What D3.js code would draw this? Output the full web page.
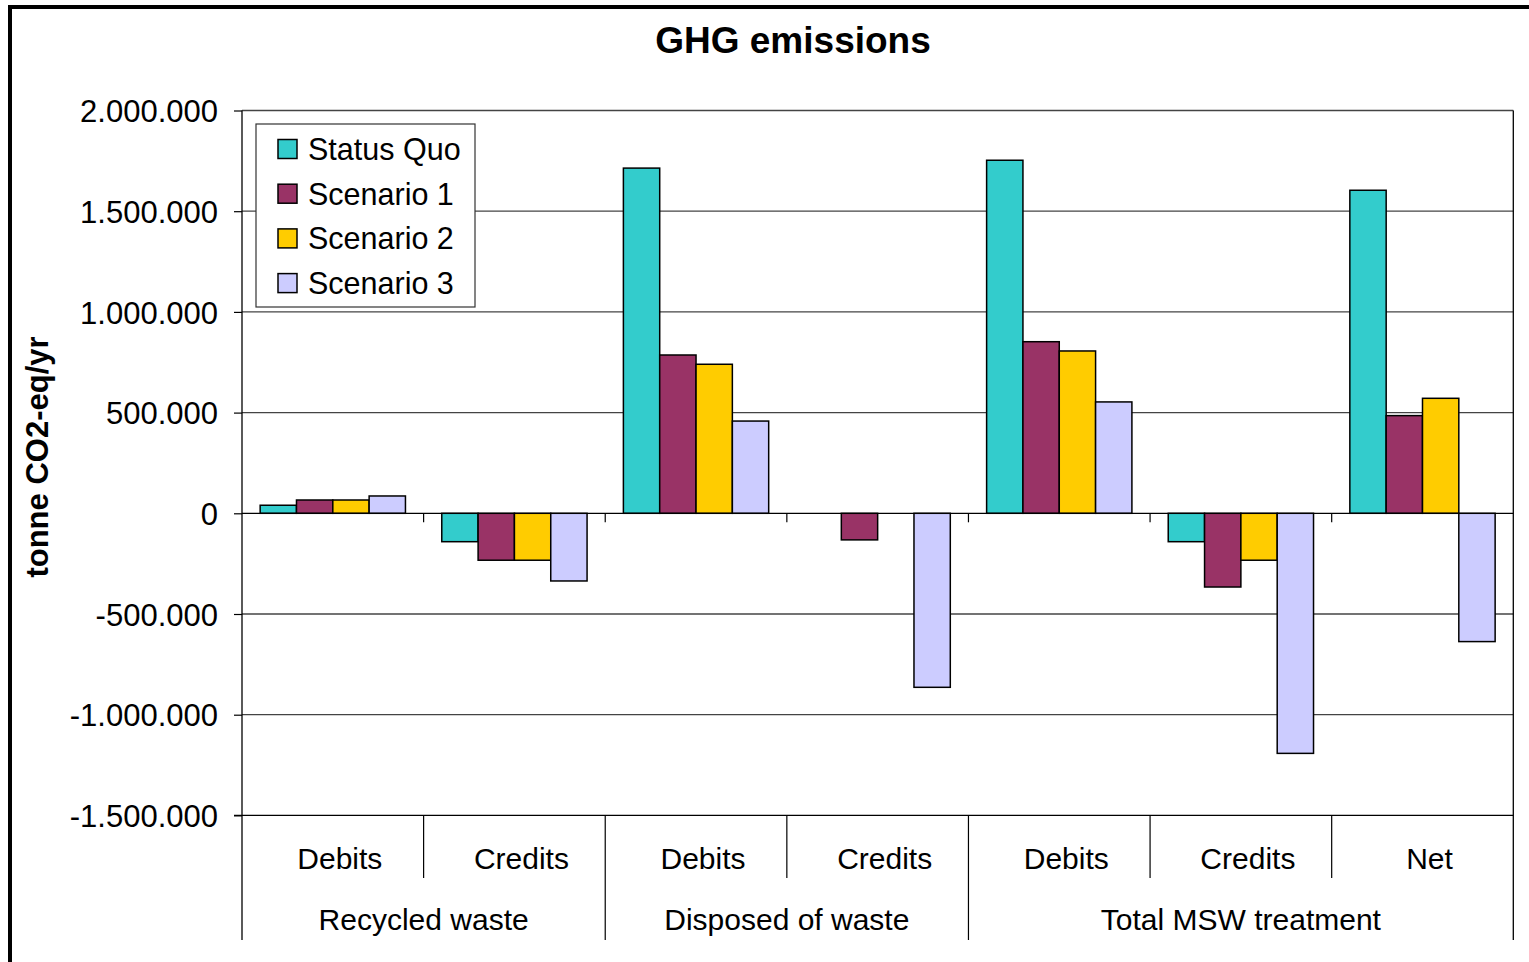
<!DOCTYPE html>
<html>
<head>
<meta charset="utf-8">
<script src="https://cdn.jsdelivr.net/npm/d3@7"></script>
<style>
  body { margin: 0; background: #fff; }
  text { font-family: "Liberation Sans", Arial, sans-serif; fill: #000; }
</style>
</head>
<body>
<div id="chart"></div>
<script>
// data
const groups = ["Recycled waste", "Disposed of waste", "Total MSW treatment"];
const subLabels = ["Debits", "Credits", "Debits", "Credits", "Debits", "Credits", "Net"];
const subGroup = [0, 0, 1, 1, 2, 2, 2];
const seriesNames = ["Status Quo", "Scenario 1", "Scenario 2", "Scenario 3"];
const seriesColors = ["#33cccc", "#993366", "#ffcc00", "#ccccff"];

const statusQuo = [40000, -141000, 1714000, 0, 1753000, -141000, 1604000];
const scenario1 = [66000, -233000, 786000, -132000, 852000, -366000, 485000];
const scenario2 = [66000, -233000, 740000, 0, 806000, -233000, 571000];
const scenario3 = [86000, -336000, 458000, -864000, 553000, -1192000, -637000];
const seriesValues = [statusQuo, scenario1, scenario2, scenario3];

const yTicks = [-1500000, -1000000, -500000, 0, 500000, 1000000, 1500000, 2000000];

const width = 1529;
const height = 962;
const plotLeft = 242, plotRight = 1513.3, plotTop = 110.5, plotBottom = 815.4;

const svg = d3
  .select("#chart")
  .append("svg")
  .attr("width", width)
  .attr("height", height);

svg.append("rect").attr("width", width).attr("height", height).attr("fill", "#fff");

// outer frame (only top and left visible)
svg
  .append("path")
  .attr("d", `M10,${height} L10,7 L${width},7`)
  .attr("fill", "none")
  .attr("stroke", "#000")
  .attr("stroke-width", 4);

const cats = subLabels.map((d, i) => i);
const x = d3.scaleBand().domain(cats).range([plotLeft, plotRight]).padding(0);
const xs = d3
  .scaleBand()
  .domain(seriesNames)
  .range([0, x.bandwidth()])
  .paddingInner(0)
  .paddingOuter(0.5);
const y = d3.scaleLinear().domain([-1500000, 2000000]).range([plotBottom, plotTop]);

const fmt = d3.formatLocale({
  decimal: ",",
  thousands: ".",
  grouping: [3],
  currency: ["", ""],
  minus: "-",
}).format(",d");

// gridlines
svg
  .append("g")
  .selectAll("line")
  .data(yTicks.filter((d) => d !== 0 && d !== -1500000))
  .enter()
  .append("line")
  .attr("x1", plotLeft)
  .attr("x2", plotRight)
  .attr("y1", (d) => y(d))
  .attr("y2", (d) => y(d))
  .attr("stroke", "#444")
  .attr("stroke-width", 1.3);

// bars
const bars = [];
seriesValues.forEach((vals, s) => {
  vals.forEach((v, i) => {
    if (v !== 0) bars.push({ s: s, i: i, v: v });
  });
});

svg
  .append("g")
  .selectAll("rect")
  .data(bars)
  .enter()
  .append("rect")
  .attr("x", (d) => x(d.i) + xs(seriesNames[d.s]))
  .attr("width", xs.bandwidth())
  .attr("y", (d) => y(Math.max(0, d.v)))
  .attr("height", (d) => Math.abs(y(d.v) - y(0)))
  .attr("fill", (d) => seriesColors[d.s])
  .attr("stroke", "#000")
  .attr("stroke-width", 1.5);

// y axis
const yAxis = svg
  .append("g")
  .attr("transform", `translate(${plotLeft},0)`)
  .call(d3.axisLeft(y).tickValues(yTicks).tickSize(8).tickSizeOuter(0).tickFormat(fmt));
yAxis.select(".domain").remove();
yAxis.selectAll(".tick line").attr("stroke", "#000").attr("stroke-width", 1.2);
yAxis
  .selectAll(".tick text")
  .attr("x", -24)
  .attr("dy", "0.36em")
  .style("font-size", "31px")
  .style("font-family", '"Liberation Sans", Arial, sans-serif');

// axis and frame lines
svg
  .append("line")
  .attr("x1", plotLeft).attr("x2", plotLeft)
  .attr("y1", plotTop).attr("y2", 940)
  .attr("stroke", "#000").attr("stroke-width", 1.3);
svg
  .append("line")
  .attr("x1", plotRight).attr("x2", plotRight)
  .attr("y1", plotTop).attr("y2", 940)
  .attr("stroke", "#000").attr("stroke-width", 1.3);
svg
  .append("line")
  .attr("x1", plotLeft - 8).attr("x2", plotRight)
  .attr("y1", plotBottom).attr("y2", plotBottom)
  .attr("stroke", "#000").attr("stroke-width", 1.3);

// category axis at zero
svg
  .append("line")
  .attr("x1", plotLeft).attr("x2", plotRight)
  .attr("y1", y(0)).attr("y2", y(0))
  .attr("stroke", "#000").attr("stroke-width", 1.3);
svg
  .append("g")
  .selectAll("line")
  .data(cats.slice(1))
  .enter()
  .append("line")
  .attr("x1", (d) => x(d)).attr("x2", (d) => x(d))
  .attr("y1", y(0)).attr("y2", y(0) + 9)
  .attr("stroke", "#000").attr("stroke-width", 1.2);

// multi-level labels below plot
svg
  .append("g")
  .selectAll("line")
  .data(cats.slice(1))
  .enter()
  .append("line")
  .attr("x1", (d) => x(d)).attr("x2", (d) => x(d))
  .attr("y1", plotBottom)
  .attr("y2", (d) => (subGroup[d] !== subGroup[d - 1] ? 940 : 878))
  .attr("stroke", "#000").attr("stroke-width", 1.2);

svg
  .append("g")
  .selectAll("text")
  .data(subLabels)
  .enter()
  .append("text")
  .attr("x", (d, i) => x(i) + x.bandwidth() / 2 + 7)
  .attr("y", 869)
  .attr("text-anchor", "middle")
  .style("font-size", "30px")
  .text((d) => d);

svg
  .append("g")
  .selectAll("text")
  .data(groups)
  .enter()
  .append("text")
  .attr("x", (d, g) => {
    const idx = cats.filter((i) => subGroup[i] === g);
    const x0 = x(idx[0]);
    const x1 = x(idx[idx.length - 1]) + x.bandwidth();
    return (x0 + x1) / 2;
  })
  .attr("y", 930)
  .attr("text-anchor", "middle")
  .style("font-size", "30px")
  .text((d) => d);

// title
svg
  .append("text")
  .attr("x", 793)
  .attr("y", 53)
  .attr("text-anchor", "middle")
  .style("font-size", "37px")
  .style("font-weight", "bold")
  .text("GHG emissions");

// y title
svg
  .append("text")
  .attr("transform", "translate(48,457) rotate(-90)")
  .attr("text-anchor", "middle")
  .style("font-size", "31px")
  .style("font-weight", "bold")
  .text("tonne CO2-eq/yr");

// legend
const legend = svg.append("g").attr("transform", "translate(256,124)");
legend
  .append("rect")
  .attr("width", 219)
  .attr("height", 183)
  .attr("fill", "#fff")
  .attr("stroke", "#333")
  .attr("stroke-width", 1.2);
const rows = legend
  .selectAll("g")
  .data(seriesNames)
  .enter()
  .append("g")
  .attr("transform", (d, i) => `translate(0,${25 + i * 44.7})`);
rows
  .append("rect")
  .attr("x", 22)
  .attr("y", -9.5)
  .attr("width", 19)
  .attr("height", 19)
  .attr("fill", (d, i) => seriesColors[i])
  .attr("stroke", "#000")
  .attr("stroke-width", 1.5);
rows
  .append("text")
  .attr("x", 52)
  .attr("y", 11)
  .style("font-size", "30.5px")
  .text((d) => d);
</script>
</body>
</html>
